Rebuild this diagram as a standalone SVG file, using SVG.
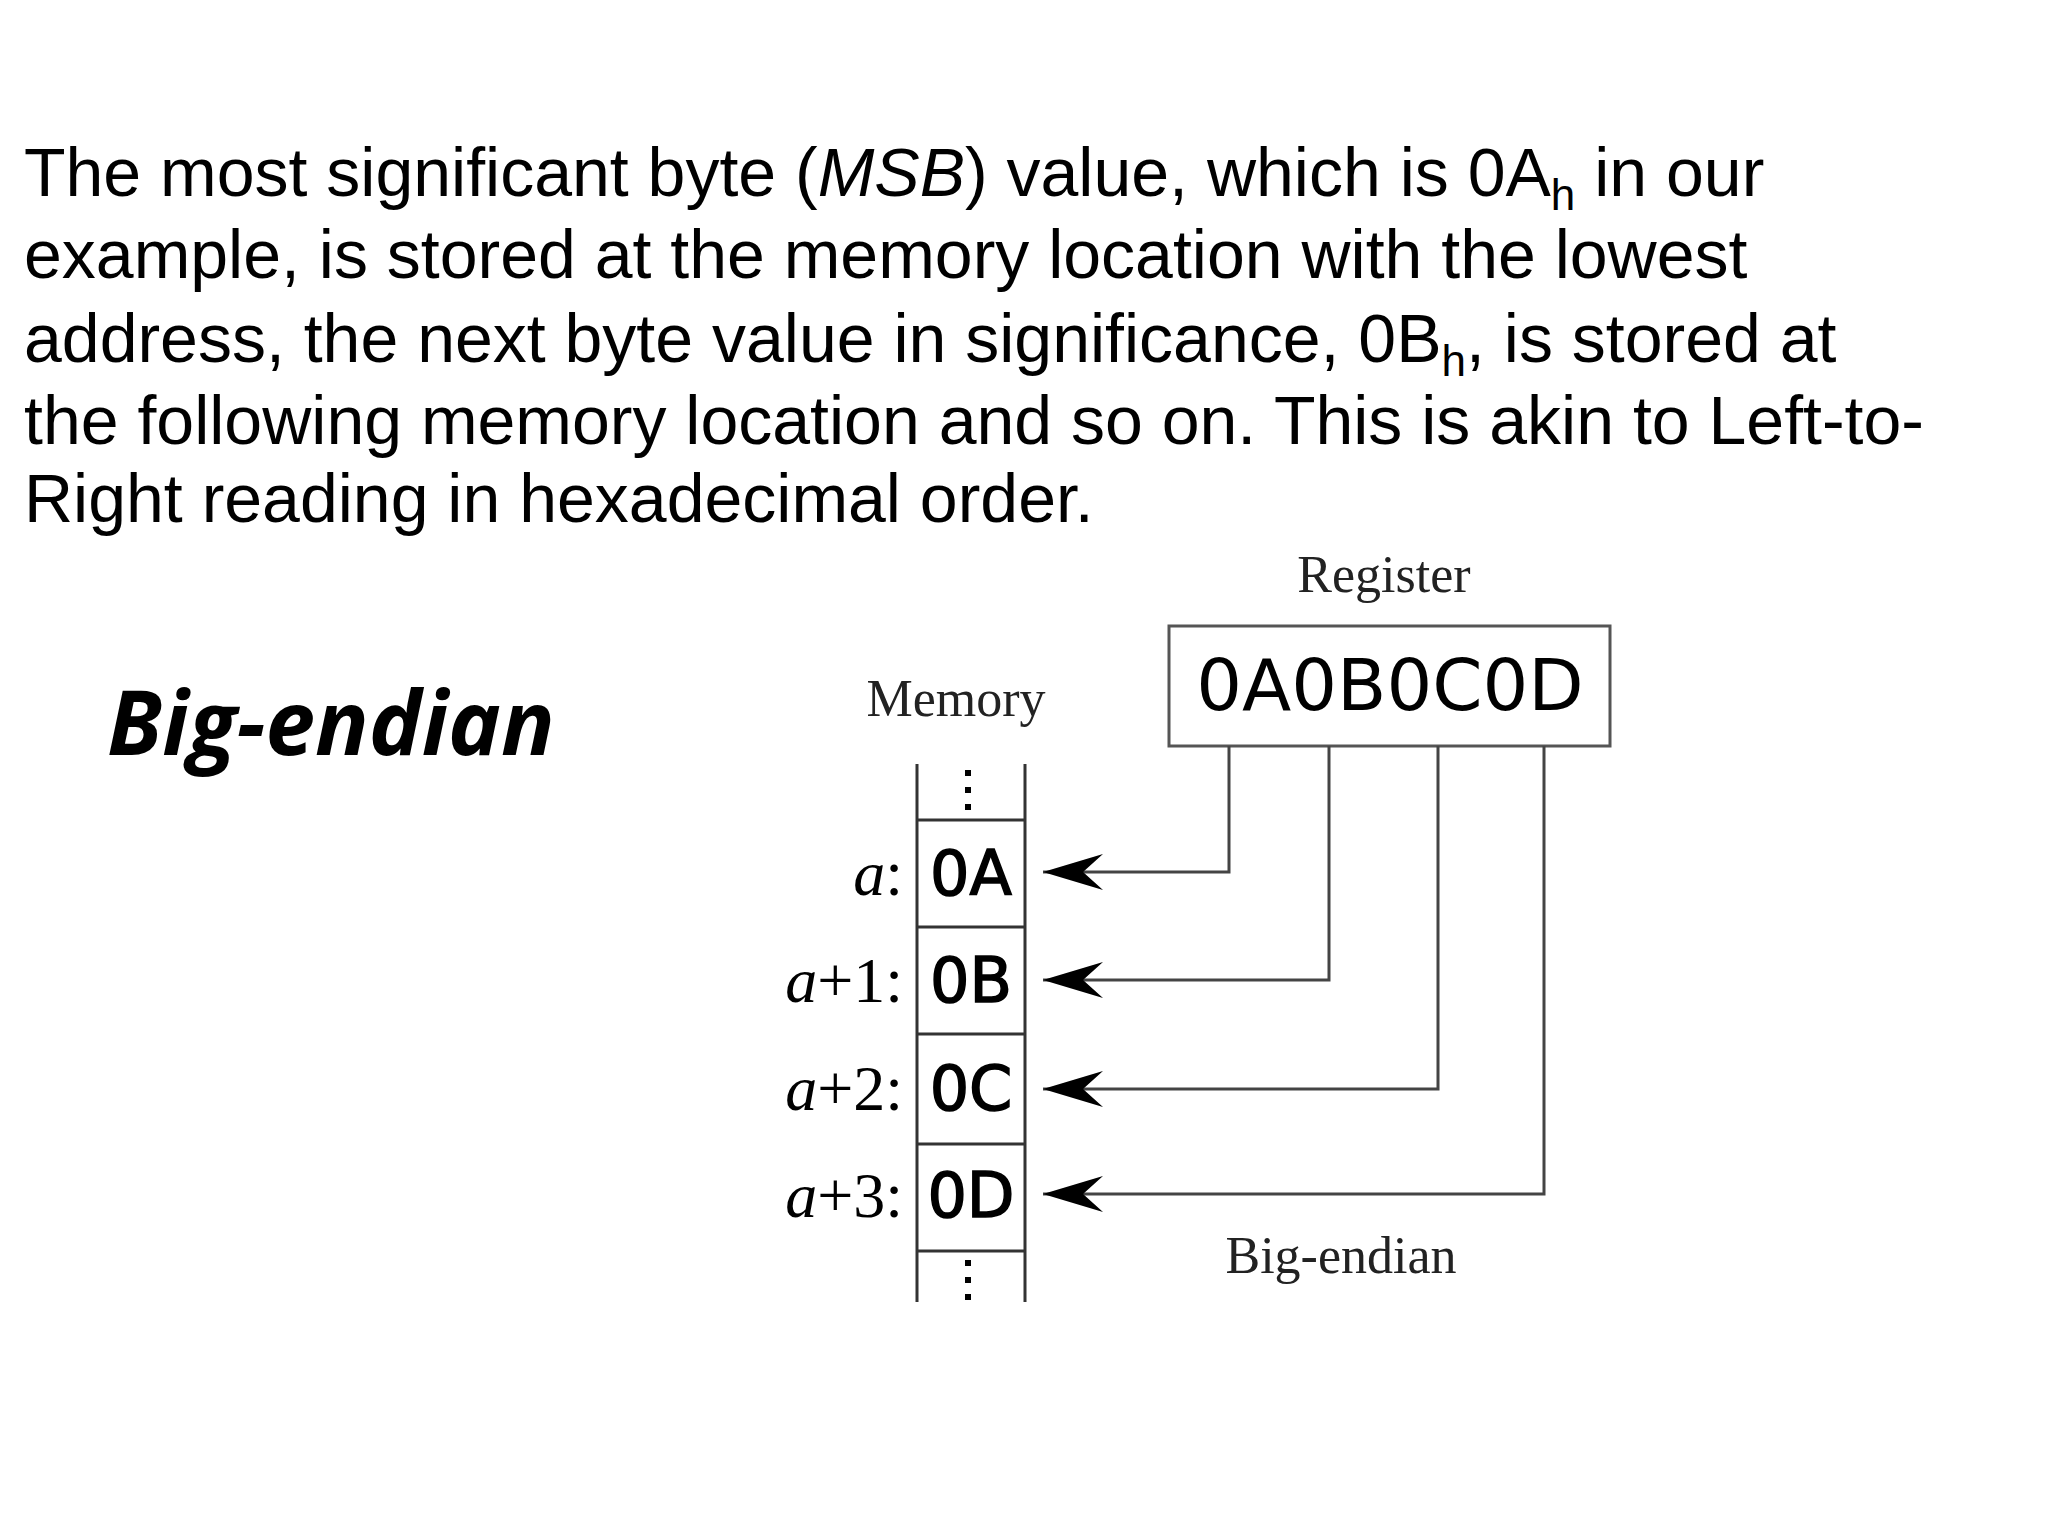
<svg xmlns="http://www.w3.org/2000/svg" width="2048" height="1536" viewBox="0 0 2048 1536">
<style>
.p{font-family:"Liberation Sans",Arial,sans-serif;font-size:68px;fill:#000}
.s{font-family:"Liberation Serif","DejaVu Serif",serif;font-size:52px;fill:#222}
.lb{font-family:"Liberation Serif","DejaVu Serif",serif;font-size:64px;fill:#000}
.m{font-family:"DejaVu Sans",sans-serif;fill:#000}
.ln{stroke:#333;stroke-width:3;fill:none}
.c{stroke:#444;stroke-width:3;fill:none}
</style>
<defs>
<marker id="ah" markerUnits="userSpaceOnUse" markerWidth="64" markerHeight="44" refX="62" refY="22" orient="auto">
<path d="M62,22 L2,4 L22,22 L2,40 Z" fill="#000"/>
</marker>
</defs>
<rect width="2048" height="1536" fill="#fff"/>
<g id="paragraph" class="p">
<text x="24" y="196">The most significant byte (<tspan font-style="italic">MSB</tspan>) value, which is 0A<tspan font-size="44" dy="14">h</tspan><tspan dy="-14"> in our</tspan></text>
<text x="24" y="278">example, is stored at the memory location with the lowest</text>
<text x="24" y="362">address, the next byte value in significance, 0B<tspan font-size="44" dy="14">h</tspan><tspan dy="-14">, is stored at</tspan></text>
<text x="24" y="444">the following memory location and so on. This is akin to Left-to-</text>
<text x="24" y="522">Right reading in hexadecimal order.</text>
</g>
<g id="title"><text x="107" y="755" font-family="'Open Sans','Liberation Sans',sans-serif" font-weight="bold" font-style="italic" font-size="89">Big-endian</text></g>
<g id="register">
<text class="s" x="1384" y="592" text-anchor="middle">Register</text>
<rect x="1169" y="626" width="441" height="120" fill="#fff" stroke="#555" stroke-width="3"/>
<text class="m" x="1390" y="710" text-anchor="middle" font-size="72">0A0B0C0D</text>
</g>
<g id="memory">
<text class="s" x="956" y="716" text-anchor="middle">Memory</text>
<line class="ln" x1="917" y1="764" x2="917" y2="1302"/>
<line class="ln" x1="1025" y1="764" x2="1025" y2="1302"/>
<line class="ln" x1="917" y1="820" x2="1025" y2="820"/>
<line class="ln" x1="917" y1="927" x2="1025" y2="927"/>
<line class="ln" x1="917" y1="1034" x2="1025" y2="1034"/>
<line class="ln" x1="917" y1="1144" x2="1025" y2="1144"/>
<line class="ln" x1="917" y1="1251" x2="1025" y2="1251"/>
<g fill="#000"><rect x="965" y="770" width="6" height="6"/><rect x="965" y="787" width="6" height="6"/><rect x="965" y="804" width="6" height="6"/>
<rect x="965" y="1260" width="6" height="6"/><rect x="965" y="1277" width="6" height="6"/><rect x="965" y="1294" width="6" height="6"/></g>
<g class="m" font-size="62" text-anchor="middle" stroke="#000" stroke-width="1.5">
<text x="971" y="895">0A</text><text x="971" y="1002">0B</text><text x="971" y="1110">0C</text><text x="971" y="1217">0D</text>
</g>
<g text-anchor="end">
<text class="lb" x="903" y="895"><tspan font-style="italic">a</tspan>:</text>
<text class="lb" x="903" y="1002"><tspan font-style="italic">a</tspan>+1:</text>
<text class="lb" x="903" y="1110"><tspan font-style="italic">a</tspan>+2:</text>
<text class="lb" x="903" y="1217"><tspan font-style="italic">a</tspan>+3:</text>
</g>
</g>
<g id="connectors">
<polyline class="c" points="1229,746 1229,872 1043,872" marker-end="url(#ah)"/>
<polyline class="c" points="1329,746 1329,980 1043,980" marker-end="url(#ah)"/>
<polyline class="c" points="1438,746 1438,1089 1043,1089" marker-end="url(#ah)"/>
<polyline class="c" points="1544,746 1544,1194 1043,1194" marker-end="url(#ah)"/>
</g>
<g id="caption"><text class="s" x="1341" y="1273" text-anchor="middle">Big-endian</text></g>
</svg>
